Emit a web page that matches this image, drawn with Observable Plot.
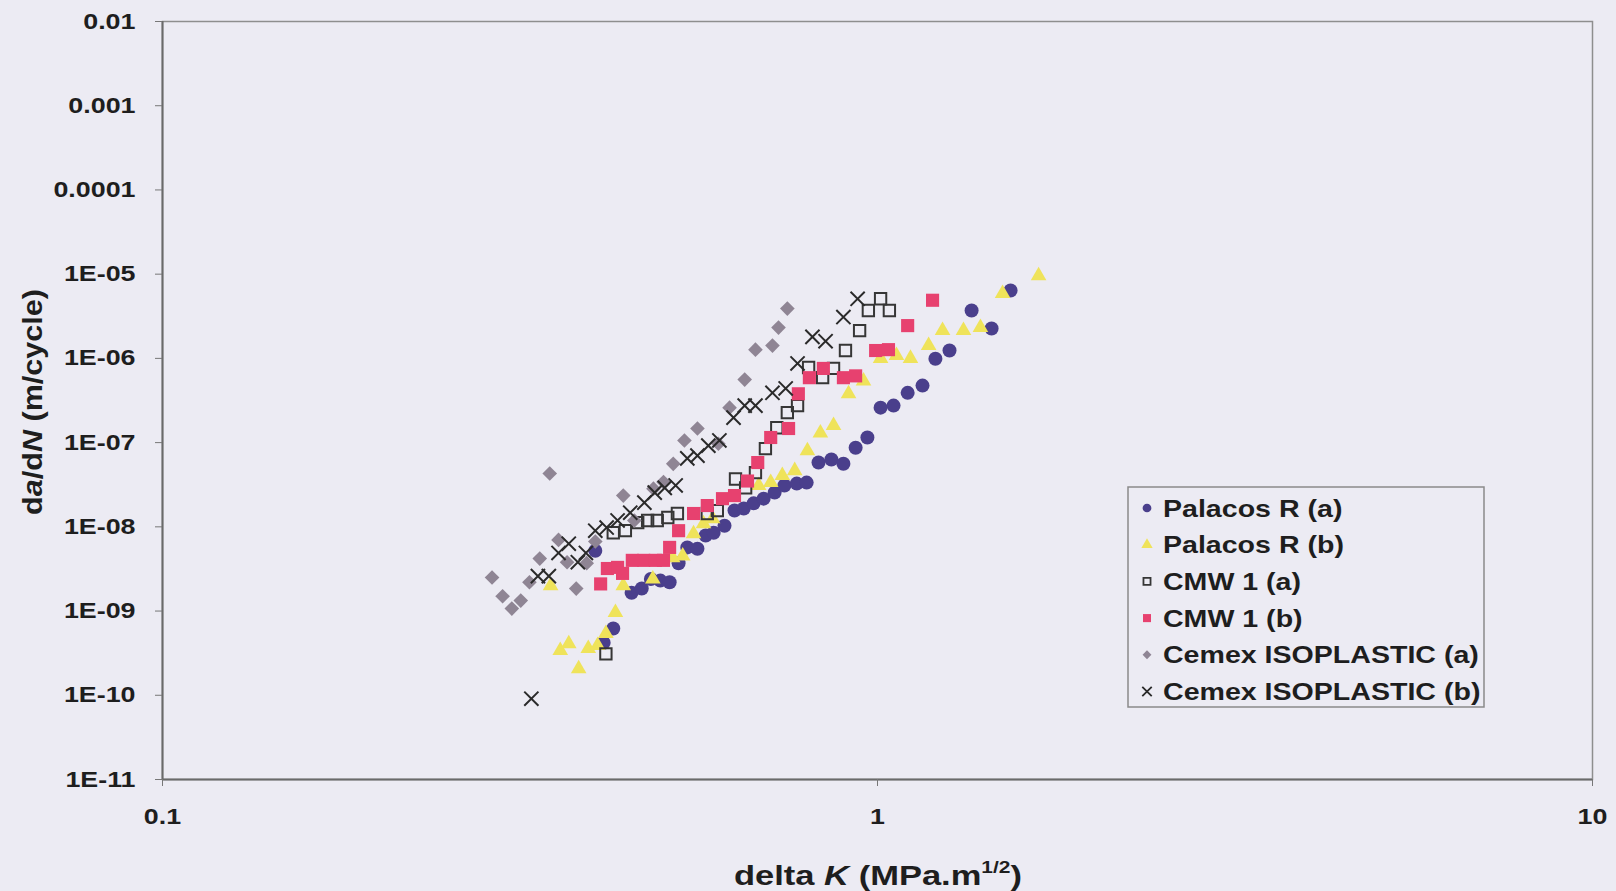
<!DOCTYPE html>
<html>
<head>
<meta charset="utf-8">
<script src="https://cdn.jsdelivr.net/npm/d3@7"></script>
<script src="https://cdn.jsdelivr.net/npm/@observablehq/plot@0.6"></script>
<style>
  html, body { margin: 0; padding: 0; background: #ecebf3; }
  #chart { width: 1616px; height: 891px; overflow: hidden; }
</style>
</head>
<body>
<div id="chart"></div>
<script>
// ---- Data ----
const seriesNames = ["Palacos R (a)", "Palacos R (b)", "CMW 1 (a)", "CMW 1 (b)", "Cemex ISOPLASTIC (a)", "Cemex ISOPLASTIC (b)"];

const palacosA_x = [0.403,0.414,0.427,0.453,0.468,0.482,0.497,0.512,0.527,0.542,0.560,0.575,0.590,0.611,0.631,0.650,0.671,0.693,0.718,0.741,0.771,0.796,0.827,0.862,0.896,0.932,0.968,1.010,1.053,1.102,1.156,1.205,1.261,1.354,1.444,1.535];
const palacosA_y = [5.2e-9,4.2e-10,6.2e-10,1.65e-9,1.85e-9,2.4e-9,2.3e-9,2.2e-9,3.7e-9,5.7e-9,5.5e-9,7.9e-9,8.5e-9,1.03e-8,1.56e-8,1.65e-8,1.9e-8,2.16e-8,2.55e-8,3.1e-8,3.26e-8,3.35e-8,5.8e-8,6.3e-8,5.6e-8,8.7e-8,1.15e-7,2.6e-7,2.75e-7,3.9e-7,4.75e-7,9.9e-7,1.24e-6,3.7e-6,2.26e-6,6.4e-6];

const palacosB_x = [0.349,0.360,0.370,0.382,0.394,0.406,0.417,0.430,0.441,0.485,0.517,0.534,0.553,0.571,0.588,0.682,0.709,0.736,0.766,0.798,0.832,0.868,0.911,0.956,1.010,1.063,1.112,1.179,1.233,1.319,1.393,1.496,1.680];
const palacosB_y = [2.0e-9,3.4e-10,4.1e-10,2.07e-10,3.6e-10,3.9e-10,5.4e-10,9.6e-10,2.0e-9,2.4e-9,4.3e-9,4.5e-9,8.3e-9,1.09e-8,1.25e-8,3.1e-8,3.35e-8,4.06e-8,4.65e-8,8.0e-8,1.3e-7,1.6e-7,3.8e-7,5.4e-7,1.0e-6,1.08e-6,1.0e-6,1.42e-6,2.14e-6,2.14e-6,2.32e-6,5.9e-6,9.6e-6];

const cmw1A_x = [0.417,0.427,0.444,0.462,0.477,0.492,0.509,0.525,0.578,0.597,0.633,0.654,0.675,0.697,0.723,0.748,0.773,0.801,0.838,0.868,0.902,0.944,0.971,1.010,1.039];
const cmw1A_y = [3.1e-10,8.5e-9,9.0e-9,1.12e-8,1.19e-8,1.19e-8,1.29e-8,1.44e-8,1.44e-8,1.56e-8,3.7e-8,2.9e-8,4.4e-8,8.5e-8,1.5e-7,2.27e-7,2.75e-7,7.8e-7,5.9e-7,7.6e-7,1.24e-6,2.14e-6,3.7e-6,5.1e-6,3.7e-6];

const cmw1B_x = [0.410,0.419,0.433,0.440,0.454,0.471,0.489,0.502,0.512,0.527,0.553,0.578,0.607,0.631,0.658,0.680,0.709,0.751,0.775,0.803,0.840,0.896,0.932,0.994,1.036,1.102,1.194];
const cmw1B_y = [2.1e-9,3.2e-9,3.3e-9,2.8e-9,4.0e-9,4.0e-9,4.0e-9,4.0e-9,5.7e-9,9.0e-9,1.44e-8,1.79e-8,2.16e-8,2.35e-8,3.5e-8,5.8e-8,1.15e-7,1.47e-7,3.8e-7,5.9e-7,7.6e-7,5.9e-7,6.2e-7,1.24e-6,1.27e-6,2.45e-6,4.9e-6];

const cemexA_x = [0.289,0.299,0.308,0.317,0.326,0.337,0.348,0.358,0.368,0.379,0.392,0.403,0.441,0.457,0.486,0.502,0.518,0.537,0.560,0.599,0.621,0.652,0.675,0.713,0.727,0.748];
const cemexA_y = [2.5e-9,1.5e-9,1.07e-9,1.33e-9,2.2e-9,4.2e-9,4.3e-8,7.0e-9,3.8e-9,1.85e-9,3.7e-9,6.7e-9,2.35e-8,1.19e-8,2.84e-8,3.4e-8,5.6e-8,1.06e-7,1.47e-7,9.7e-8,2.6e-7,5.6e-7,1.27e-6,1.42e-6,2.32e-6,3.9e-6];

const cemexB_x = [0.328,0.335,0.347,0.358,0.370,0.381,0.391,0.403,0.418,0.433,0.451,0.472,0.488,0.504,0.522,0.542,0.560,0.580,0.601,0.629,0.652,0.675,0.713,0.744,0.773,0.811,0.846,0.896,0.938];
const cemexB_y = [9.1e-11,2.6e-9,2.6e-9,4.9e-9,6.3e-9,3.8e-9,4.9e-9,9.0e-9,9.8e-9,1.19e-8,1.47e-8,1.94e-8,2.55e-8,2.9e-8,3.1e-8,6.5e-8,7.0e-8,9.2e-8,1.06e-7,1.98e-7,2.75e-7,2.75e-7,3.9e-7,4.4e-7,8.7e-7,1.8e-6,1.6e-6,3.1e-6,5.1e-6];

const xTicks = [0.1, 1, 10];
const xTickLabels = ["0.1", "1", "10"];
const yTicks = [1e-11, 1e-10, 1e-9, 1e-8, 1e-7, 1e-6, 1e-5, 1e-4, 1e-3, 1e-2];
const yTickLabels = ["1E-11", "1E-10", "1E-09", "1E-08", "1E-07", "1E-06", "1E-05", "0.0001", "0.001", "0.01"];

// ---- Build tables ----
const pts = (xs, ys, s) => xs.map((x, i) => ({x, y: ys[i], series: s}));
const dA = pts(palacosA_x, palacosA_y, seriesNames[0]);
const dB = pts(palacosB_x, palacosB_y, seriesNames[1]);
const dC = pts(cmw1A_x, cmw1A_y, seriesNames[2]);
const dD = pts(cmw1B_x, cmw1B_y, seriesNames[3]);
const dE = pts(cemexA_x, cemexA_y, seriesNames[4]);
const dF = pts(cemexB_x, cemexB_y, seriesNames[5]);

const xLab = new Map(xTicks.map((t, i) => [t, xTickLabels[i]]));
const yLab = new Map(yTicks.map((t, i) => [t, yTickLabels[i]]));

const BG = "#ecebf3";
const FONT = "'Liberation Sans', Arial, sans-serif";
const INK = "#1e1e1e";

const chart = Plot.plot({
  width: 1616,
  height: 891,
  marginLeft: 162,
  marginRight: 24,
  marginTop: 21,
  marginBottom: 112,
  style: {background: BG, fontFamily: FONT, fontSize: "22px", fontWeight: "bold", color: INK},
  x: {type: "log", domain: [xTicks[0], xTicks[xTicks.length - 1]]},
  y: {type: "log", domain: [yTicks[0], yTicks[yTicks.length - 1]]},
  marks: [
    Plot.frame({stroke: "#8e8e8e", strokeWidth: 1.5}),
    Plot.ruleX([xTicks[0]], {stroke: "#6a6a6a", strokeWidth: 2}),
    Plot.ruleY([yTicks[0]], {stroke: "#6a6a6a", strokeWidth: 2}),
    Plot.axisX(xTicks, {tickFormat: d => xLab.get(d), tickSize: 7, tickPadding: 22, stroke: "#777", label: null, fontSize: 22}),
    Plot.axisY(yTicks, {tickFormat: d => yLab.get(d), tickSize: 7, tickPadding: 20, stroke: "#777", label: null, fontSize: 22}),
    Plot.dot(dA, {x: "x", y: "y", symbol: "circle", r: 7, fill: "#4a3f8c"}),
    Plot.dot(dB, {x: "x", y: "y", symbol: "triangle", r: 5.8, fill: "#efe35a"}),
    Plot.dot(dC, {x: "x", y: "y", symbol: "square", r: 6.4, fill: "none", stroke: "#363636", strokeWidth: 2}),
    Plot.dot(dD, {x: "x", y: "y", symbol: "square", r: 7.4, fill: "#e7416f"}),
    Plot.dot(dE, {x: "x", y: "y", symbol: "diamond2", r: 6.6, fill: "#8f8594"}),
    Plot.dot(dF, {x: "x", y: "y", symbol: "times", r: 6.5, stroke: "#2a2a2a", strokeWidth: 2})
  ]
});

document.getElementById("chart").appendChild(chart);
const svg = d3.select(chart);

// widen text like the scanned original (text stays real text)
function stretch(sel, factor) {
  sel.each(function () {
    const L = this.getComputedTextLength();
    if (L > 0) {
      d3.select(this).attr("textLength", (L * factor).toFixed(1)).attr("lengthAdjust", "spacingAndGlyphs");
    }
  });
}
stretch(svg.selectAll("text"), 1.22);

// ---- Axis titles ----
const xt = svg.append("text")
  .attr("x", 878).attr("y", 885)
  .attr("text-anchor", "middle")
  .attr("font-family", FONT).attr("font-weight", "bold").attr("font-size", 28)
  .attr("fill", INK);
xt.append("tspan").text("delta ");
xt.append("tspan").attr("font-style", "italic").text("K");
xt.append("tspan").text(" (MPa.m");
xt.append("tspan").attr("font-size", 17).attr("dy", -12).text("1/2");
xt.append("tspan").attr("dy", 12).text(")");
xt.attr("textLength", 288).attr("lengthAdjust", "spacingAndGlyphs");

const yt = svg.append("text")
  .attr("transform", "translate(42,402) rotate(-90)")
  .attr("text-anchor", "middle")
  .attr("font-family", FONT).attr("font-weight", "bold").attr("font-size", 27)
  .attr("fill", INK);
yt.append("tspan").text("d");
yt.append("tspan").attr("font-style", "italic").text("a");
yt.append("tspan").text("/d");
yt.append("tspan").attr("font-style", "italic").text("N");
yt.append("tspan").text(" (m/cycle)");
yt.attr("textLength", 226).attr("lengthAdjust", "spacingAndGlyphs");

// ---- Legend ----
const lg = svg.append("g");
lg.append("rect").attr("x", 1128).attr("y", 487).attr("width", 356).attr("height", 220)
  .attr("fill", BG).attr("stroke", "#8a8a8a").attr("stroke-width", 1.5);
const legendStyles = [
  {type: d3.symbolCircle, size: 60, fill: "#4a3f8c", stroke: "none", sw: 0},
  {type: d3.symbolTriangle, size: 55, fill: "#efe35a", stroke: "none", sw: 0},
  {type: d3.symbolSquare, size: 50, fill: "none", stroke: "#363636", sw: 1.8},
  {type: d3.symbolSquare, size: 65, fill: "#e7416f", stroke: "none", sw: 0},
  {type: d3.symbolDiamond2, size: 50, fill: "#8f8594", stroke: "none", sw: 0},
  {type: d3.symbolTimes, size: 60, fill: "none", stroke: "#2a2a2a", sw: 1.8}
];
seriesNames.forEach((name, i) => {
  const cy = 508 + i * 36.7;
  const st = legendStyles[i];
  lg.append("path")
    .attr("transform", `translate(1147,${cy})`)
    .attr("d", d3.symbol().type(st.type).size(st.size)())
    .attr("fill", st.fill).attr("stroke", st.stroke).attr("stroke-width", st.sw);
  const t = lg.append("text")
    .attr("x", 1163).attr("y", cy).attr("dy", "0.36em")
    .attr("text-anchor", "start")
    .attr("font-family", FONT).attr("font-weight", "bold").attr("font-size", 24)
    .attr("fill", INK)
    .text(name);
  stretch(t, 1.19);
});
</script>
</body>
</html>
